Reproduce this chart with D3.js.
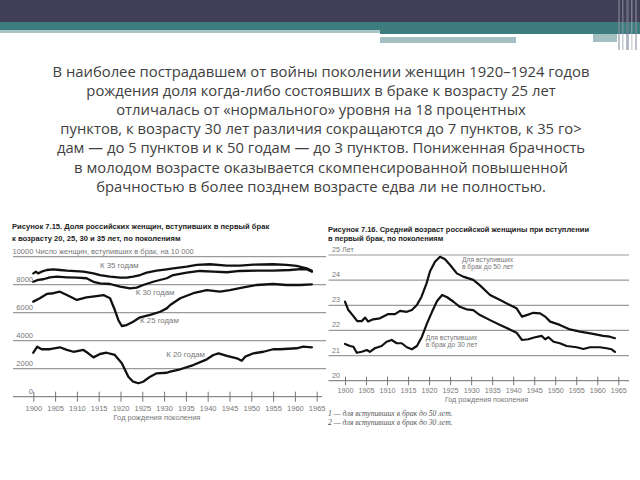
<!DOCTYPE html>
<html><head><meta charset="utf-8">
<script src="https://cdn.jsdelivr.net/npm/d3@7"></script>
<style>body{margin:0;background:#fff}svg{display:block}</style>
</head><body><svg id="c" width="640" height="480"></svg>
<script>
// ---------- DATA ----------
const paragraphLines = [
  "В наиболее пострадавшем от войны поколении женщин 1920–1924 годов",
  "рождения доля когда-либо состоявших в браке к возрасту 25 лет",
  "отличалась от «нормального» уровня на 18 процентных",
  "пунктов, к возрасту 30 лет различия сокращаются до 7 пунктов, к 35 го>",
  "дам — до 5 пунктов и к 50 годам — до 3 пунктов. Пониженная брачность",
  "в молодом возрасте оказывается скомпенсированной повышенной",
  "брачностью в более позднем возрасте едва ли не полностью."
];
const leftTitle = ["Рисунок 7.15. Доля российских женщин, вступивших в первый брак",
                   "к возрасту 20, 25, 30 и 35 лет, по поколениям"];
const leftUnit = "Число женщин, вступивших в брак, на 10 000";
const leftYTicks = [0, 2000, 4000, 6000, 8000, 10000];
const xTickYears = [1900,1905,1910,1915,1920,1925,1930,1935,1940,1945,1950,1955,1960,1965];
const xAxisTitle = "Год рождения поколения";

const k35Years = [1900,1900.6,1901.1,1901.9,1903.1,1904.6,1906.1,1907.7,1911.5,1913.8,1915.3,1917.6,1919.9,1921.4,1922.9,1924.5,1926.0,1928.3,1930.6,1932.1,1935.2,1937.5,1940.5,1944.4,1947.4,1950.5,1955.0,1958.1,1960.4,1962.7,1963.9];
const k35Values = [8810,8930,8810,8930,9050,9100,9050,9000,8930,8810,8690,8570,8500,8500,8570,8690,8860,9000,9100,9170,9290,9410,9460,9360,9360,9430,9460,9410,9340,9170,9000];

const k30Years = [1900,1901.1,1902.3,1903.8,1905.4,1907.7,1910.0,1912.2,1913.8,1915.3,1917.6,1919.9,1922.2,1923.7,1925.2,1927.5,1930.6,1932.1,1935.2,1938.2,1941.3,1944.4,1947.4,1951.2,1955.0,1958.9,1961.2,1962.7,1963.9];
const k30Values = [8210,8340,8390,8530,8570,8530,8500,8460,8210,8100,8050,7860,7740,7790,7980,8210,8460,8690,8860,8980,8930,8890,8980,9000,9000,9050,9120,9100,8930];

const k25Years = [1900,1901.5,1903.1,1904.6,1906.1,1907.7,1910.0,1912.2,1914.5,1916.1,1917.6,1918.7,1919.5,1920.3,1921.4,1922.9,1924.5,1926.8,1929.1,1930.6,1931.4,1933.7,1936.7,1939.8,1942.8,1945.1,1948.2,1951.2,1955.0,1958.1,1961.2,1963.9];
const k25Values = [6790,7030,7340,7390,7500,7260,6910,7100,7190,7260,7030,6190,5480,5050,5120,5360,5670,5840,6070,6310,6550,7030,7390,7620,7500,7620,7810,7980,8050,7980,7980,8030];

const k20Years = [1900,1900.9,1901.9,1903.8,1906.1,1907.7,1909.2,1911.5,1912.6,1913.8,1915.3,1916.8,1918.7,1920.3,1921.8,1922.9,1924.1,1925.2,1926.8,1928.3,1930.6,1931.4,1933.7,1936.7,1939.8,1941.3,1942.5,1944.4,1946.7,1947.8,1948.6,1950.5,1952.8,1955.0,1956.6,1960.4,1961.9,1963.9];
const k20Values = [3140,3570,3390,3390,3530,3340,3210,3340,3100,2810,3050,3140,2980,2390,1430,1070,960,1070,1430,1670,1710,1790,1960,2260,2670,2980,3100,2910,2740,2570,2860,3100,3210,3390,3390,3460,3570,3530];

const leftSeriesLabels = ["К 35 годам","К 30 годам","К 25 годам","К 20 годам"];

const rightTitle = ["Рисунок 7.16. Средний возраст российской женщины при вступлении",
                    "в первый брак, по поколениям"];
const rightYTicks = [20,21,22,23,24,25];
const rightUnit = "Лет";

const age50Years = [1900,1900.8,1902.0,1902.9,1904.0,1904.8,1905.5,1906.7,1908.3,1910.3,1911.9,1913.1,1914.7,1915.9,1917.1,1918.2,1919.4,1920.2,1921.4,1922.6,1923.8,1925.0,1926.6,1928.1,1930.5,1932.1,1934.5,1936.9,1939.2,1940.8,1942.1,1943.2,1944.8,1946.4,1947.6,1948.8,1951.1,1953.5,1955.9,1959.0,1961.4,1963.0,1964.2];
const age50Values = [23.14,22.81,22.57,22.37,22.37,22.51,22.35,22.44,22.48,22.65,22.65,22.78,22.74,22.81,23.01,23.34,23.87,24.34,24.73,24.93,24.83,24.60,24.27,24.14,24.01,23.79,23.41,23.21,23.01,22.88,22.55,22.61,22.70,22.68,22.55,22.35,22.22,22.04,21.95,21.86,21.78,21.75,21.69];

const age30Years = [1900,1901.2,1902.0,1902.8,1904.0,1905.2,1905.9,1907.1,1908.7,1909.9,1911.1,1912.3,1913.5,1914.7,1915.9,1917.1,1918.3,1919.5,1920.7,1921.9,1923.1,1924.3,1925.8,1927.3,1928.9,1930.5,1932.1,1934.5,1936.9,1939.2,1940.8,1942.1,1943.6,1945.2,1946.8,1947.6,1948.4,1949.6,1951.1,1952.7,1955.1,1956.7,1958.3,1960.6,1962.2,1963.4,1964.2];
const age30Values = [21.46,21.38,21.35,21.11,21.15,21.22,21.15,21.29,21.38,21.55,21.62,21.49,21.49,21.33,21.25,21.38,21.75,22.28,22.74,23.17,23.41,23.32,23.14,22.94,22.84,22.81,22.61,22.41,22.22,22.04,21.91,21.62,21.65,21.73,21.78,21.65,21.73,21.55,21.49,21.38,21.33,21.26,21.33,21.33,21.29,21.25,21.15];

const rightSeriesLabels = [["Для вступивших","в брак до 50 лет"],["Для вступивших","в брак до 30 лет"]];
const footnotes = ["1 — для вступивших в брак до 50 лет.","2 — для вступивших в брак до 30 лет."];

// ---------- DRAW ----------
const svg = d3.select("#c");
svg.append("rect").attr("width",640).attr("height",480).attr("fill","#fff");

// header decoration
const hdr = svg.append("g");
hdr.append("rect").attr("x",0).attr("y",0).attr("width",640).attr("height",22).attr("fill","#413f57");
hdr.append("rect").attr("x",0).attr("y",22).attr("width",640).attr("height",8).attr("fill","#3e7d7f");
hdr.append("rect").attr("x",0).attr("y",30).attr("width",380).attr("height",3).attr("fill","#a9c6c7");
hdr.append("rect").attr("x",380).attr("y",30).attr("width",260).attr("height",4).attr("fill","#3e7d7f");
hdr.append("rect").attr("x",380).attr("y",37).attr("width",136).attr("height",6).attr("fill","#a3bfc2");
hdr.append("rect").attr("x",593).attr("y",34).attr("width",24).attr("height",8).attr("fill","#a3bfc2");
[[618,2,"#8a8fa0"],[622,1.5,"#9aa0b0"],[626,3,"#7c8194"],[631,1.5,"#b0b4c0"],[635,2,"#8c90a0"]]
  .forEach(s=>hdr.append("rect").attr("x",s[0]).attr("y",0).attr("width",s[1]).attr("height",50)
    .attr("fill",s[2]).attr("opacity",0.55));

// paragraph
svg.append("g").selectAll("text").data(paragraphLines).join("text")
  .attr("x",321).attr("y",(d,i)=>77+i*19.1)
  .attr("text-anchor","middle")
  .attr("font-family","'Open Sans', sans-serif").attr("font-size",14.8)
  .attr("fill","#404040")
  .text(d=>d);

// ---------- LEFT CHART ----------
const L = svg.append("g");
const xL = d3.scaleLinear().domain([1900,1965]).range([33.3,316.7]);
const yL = d3.scaleLinear().domain([0,10000]).range([396.7,256.7]);

L.selectAll("text.title").data(leftTitle).join("text").attr("class","title")
  .attr("x",12).attr("y",(d,i)=>229+i*11.5)
  .attr("font-family","Arial, 'Liberation Sans', sans-serif").attr("font-weight","bold")
  .attr("font-size",7.6).attr("fill","#222").text(d=>d);

L.selectAll("line.grid").data(leftYTicks.filter(v=>v>0)).join("line").attr("class","grid")
  .attr("x1",13).attr("x2",326).attr("y1",d=>yL(d)).attr("y2",d=>yL(d))
  .attr("stroke","#9a9a9a").attr("stroke-width",1.3);

L.selectAll("text.ylab").data(leftYTicks.filter(v=>v<10000)).join("text").attr("class","ylab")
  .attr("x",33).attr("y",d=>yL(d)-2.5).attr("text-anchor","end")
  .attr("font-family","Arial, 'Liberation Sans', sans-serif").attr("font-size",7.5)
  .attr("fill","#777").text(d=>d);
L.append("text").attr("x",12.5).attr("y",yL(10000)-2.5)
  .attr("font-family","Arial, 'Liberation Sans', sans-serif").attr("font-size",7.5)
  .attr("fill","#777").text(leftYTicks[5] + " " + leftUnit);

L.append("line").attr("x1",13).attr("x2",322).attr("y1",yL(0)).attr("y2",yL(0))
  .attr("stroke","#8a8a8a").attr("stroke-width",1.3);
const axL = L.append("g").attr("transform",`translate(0,${yL(0)})`)
  .call(d3.axisBottom(xL).tickValues(xTickYears).tickSize(5).tickFormat(d3.format("d")));
axL.select(".domain").remove();
axL.selectAll(".tick line").attr("y1",-5).attr("y2",5).attr("stroke","#777").attr("stroke-width",1);
axL.selectAll(".tick text").attr("y",8.5).attr("font-family","Arial, 'Liberation Sans', sans-serif")
  .attr("font-size",7.5).attr("fill","#777");
L.append("text").attr("x",157).attr("y",419.5).attr("text-anchor","middle")
  .attr("font-family","Arial, 'Liberation Sans', sans-serif").attr("font-size",7.5)
  .attr("fill","#777").text(xAxisTitle);

const lineL = d3.line().x(d=>xL(d[0])).y(d=>yL(d[1])).curve(d3.curveLinear);
const leftSeries = [
  d3.zip(k35Years,k35Values), d3.zip(k30Years,k30Values),
  d3.zip(k25Years,k25Values), d3.zip(k20Years,k20Values)
];
L.selectAll("path.series").data(leftSeries).join("path").attr("class","series")
  .attr("d",lineL).attr("fill","none").attr("stroke","#111").attr("stroke-width",2.3)
  .attr("stroke-linejoin","round").attr("stroke-linecap","round");

const leftLabelPos = [[1915.3, 9200],[1923.5,7260],[1924.5,5250],[1930.5,2840]];
L.selectAll("text.slab").data(leftSeriesLabels).join("text").attr("class","slab")
  .attr("x",(d,i)=>xL(leftLabelPos[i][0])).attr("y",(d,i)=>yL(leftLabelPos[i][1]))
  .attr("font-family","Arial, 'Liberation Sans', sans-serif").attr("font-size",7.8)
  .attr("fill","#777").text(d=>d);

// ---------- RIGHT CHART ----------
svg.append("rect").attr("x",326).attr("y",208).attr("width",314).attr("height",226).attr("fill","#fff");
const R = svg.append("g");
const xR = d3.scaleLinear().domain([1900,1965]).range([345,618.3]);
const yR = d3.scaleLinear().domain([20,25]).range([380.7,255]);

R.selectAll("text.title").data(rightTitle).join("text").attr("class","title")
  .attr("x",328).attr("y",(d,i)=>231.5+i*9)
  .attr("font-family","Arial, 'Liberation Sans', sans-serif").attr("font-weight","bold")
  .attr("font-size",7.5).attr("fill","#222").text(d=>d);

R.selectAll("line.grid").data(rightYTicks.filter(v=>v>20)).join("line").attr("class","grid")
  .attr("x1",328.5).attr("x2",629).attr("y1",d=>yR(d)).attr("y2",d=>yR(d))
  .attr("stroke","#9a9a9a").attr("stroke-width",1.2);
R.selectAll("text.ylab").data(rightYTicks).join("text").attr("class","ylab")
  .attr("x",332).attr("y",d=>yR(d)-3)
  .attr("font-family","Arial, 'Liberation Sans', sans-serif").attr("font-size",7.2)
  .attr("fill","#777").text(d=> d===25 ? d + "  " + rightUnit : d);

R.append("line").attr("x1",328.5).attr("x2",629).attr("y1",yR(20)).attr("y2",yR(20))
  .attr("stroke","#8a8a8a").attr("stroke-width",1.2);
const axR = R.append("g").attr("transform",`translate(0,${yR(20)})`)
  .call(d3.axisBottom(xR).tickValues(xTickYears).tickSize(4).tickFormat(d3.format("d")));
axR.select(".domain").remove();
axR.selectAll(".tick line").attr("y1",-4).attr("y2",4.5).attr("stroke","#777").attr("stroke-width",1);
axR.selectAll(".tick text").attr("y",7).attr("font-family","Arial, 'Liberation Sans', sans-serif")
  .attr("font-size",7.2).attr("fill","#777");
R.append("text").attr("x",486.5).attr("y",402).attr("text-anchor","middle")
  .attr("font-family","Arial, 'Liberation Sans', sans-serif").attr("font-size",7.2)
  .attr("fill","#777").text(xAxisTitle);

const lineR = d3.line().x(d=>xR(d[0])).y(d=>yR(d[1]));
const rightSeries = [d3.zip(age50Years,age50Values), d3.zip(age30Years,age30Values)];
R.selectAll("path.series").data(rightSeries).join("path").attr("class","series")
  .attr("d",lineR).attr("fill","none").attr("stroke","#111").attr("stroke-width",2.2)
  .attr("stroke-linejoin","round").attr("stroke-linecap","round");

const rightLabelPos = [[1927.8,24.72],[1919.2,21.62]];
rightSeriesLabels.forEach((lines,i)=>{
  R.append("g").selectAll("text").data(lines).join("text")
    .attr("x",xR(rightLabelPos[i][0])).attr("y",(d,j)=>yR(rightLabelPos[i][1])+j*6.8)
    .attr("font-family","Arial, 'Liberation Sans', sans-serif").attr("font-size",6.8)
    .attr("fill","#777").text(d=>d);
});

R.selectAll("text.foot").data(footnotes).join("text").attr("class","foot")
  .attr("x",328).attr("y",(d,i)=>415.5+i*9.3)
  .attr("font-family","'Liberation Serif', serif").attr("font-style","italic")
  .attr("font-size",7.7).attr("fill","#555").text(d=>d);
</script></body></html>
